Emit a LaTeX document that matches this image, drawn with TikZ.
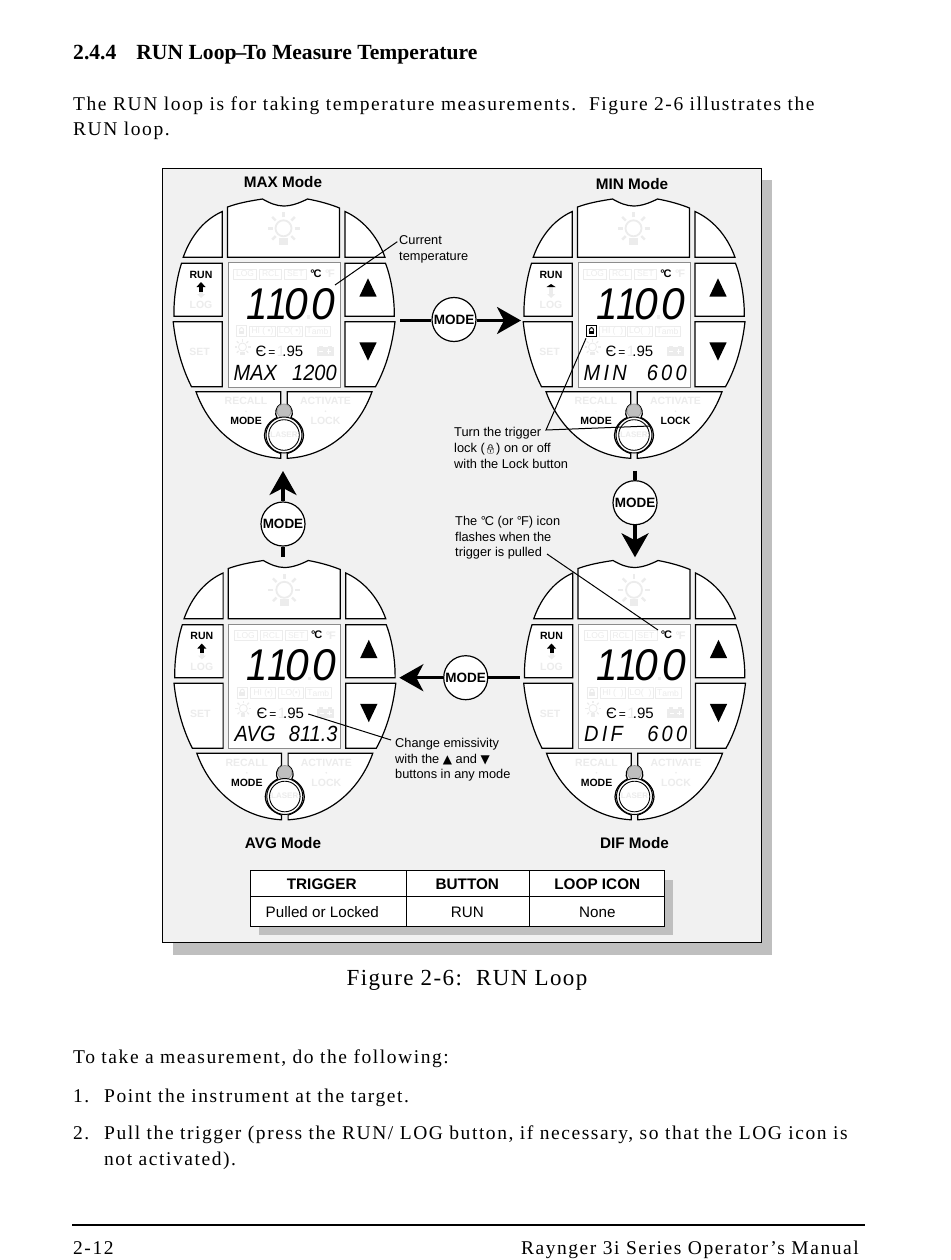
\documentclass[tikz,border=0pt]{standalone}
\usepackage{fontspec}
\usepackage{graphicx}
\usetikzlibrary{arrows.meta}
\setmainfont{Liberation Serif}
\setsansfont{Liberation Sans}
\newfontfamily\bodyfont[LetterSpace=8]{Liberation Serif}
\newfontfamily\figfont[LetterSpace=6]{Liberation Serif}
\newfontfamily\lcdwide[LetterSpace=16]{Liberation Sans}
\newfontfamily\symfont{DejaVu Sans}
\newfontfamily\emojifont{Noto Emoji}
\newcommand{\szz}[1]{\fontsize{#1}{#1}\selectfont}
\definecolor{ghost}{RGB}{236,236,236}
\definecolor{panel}{HTML}{F1F1F1}
\definecolor{shadowgray}{HTML}{BFBFBF}
\definecolor{lcdedge}{HTML}{8C8C8C}
\tikzset{
  btn/.style={draw=black,fill=white,line width=1.2pt,line join=miter},
  ftext/.style={text=ghost,font=\sffamily\bfseries\szz{10.5},inner sep=0pt},
  btext/.style={text=black,font=\sffamily\bfseries\szz{10.5},inner sep=0pt},
  gbox/.style={draw=ghost,line width=0.9pt,fill=white},
  modecirc/.style={circle,draw=black,fill=white,line width=1.2pt,minimum size=44pt,inner sep=0pt,font=\sffamily\bfseries\szz{13.5}},
  modeline/.style={line width=3.4pt,black},
  modearrow/.style={line width=3.4pt,black,-{Stealth[length=24pt,width=27pt,inset=7pt]}},
  callout/.style={inner sep=0pt,anchor=north west,align=left,font=\sffamily\fontsize{12.8}{15.6}\selectfont},
  leader/.style={line width=1pt,black},
  title/.style={inner sep=0pt,font=\sffamily\bfseries\szz{15.3}},
  cell/.style={inner sep=0pt,font=\sffamily\szz{15.2}},
  headcell/.style={inner sep=0pt,font=\sffamily\bfseries\szz{15.3}},
  bodyline/.style={inner sep=0pt,anchor=base west,font=\bodyfont\szz{19.5}},
  lcdrow/.style={inner sep=0pt,anchor=base west,font=\sffamily\itshape\szz{20}}
}
\newcommand{\sunicon}[3]{%
  \begin{scope}[shift={(#1,#2)},scale=#3]
    \draw[draw=ghost,line width=1.8pt*#3,fill=white] (0,0) circle[radius=8pt];
    \foreach \ang in {0,45,...,315} \draw[draw=ghost,line width=2.4pt*#3] (\ang:11) -- (\ang:16);
    \fill[fill=ghost] (-4.2,9.5) rectangle (4.2,16.5);
  \end{scope}}
\newcommand{\lockicon}[1]{%
  \draw[draw=#1,line width=1pt] (-3,-0.5) .. controls (-3,-6) and (3,-6) .. (3,-0.5);
  \fill[fill=#1] (-4,-0.5) rectangle (4,4.5);}
\def\lockcol{ghost}\def\lockboxcol{ghost}\def\lockbtn{ghost}\def\stemcol{black}\def\tipstart{83}
% x, y, prefix, HI text, LO text, bottom row
\newcommand{\device}[6]{%
 \begin{scope}[shift={(#1,#2)}]
  \draw[btn] (-56,58.3) -- (-56,8) .. controls (-45,4) and (-34,2) .. (-21,0) .. controls (-14,4) and (-7,7) .. (0,7) .. controls (8,7) and (16,4) .. (24,0) .. controls (35,2) and (46,5) .. (56,9) -- (56,58.3) -- cycle;
  \draw[btn] (-61.2,12.5) -- (-61.2,58.3) -- (-100.3,58.3) .. controls (-92,35) and (-78,20) .. cycle;
  \draw[btn] (61.5,12.5) -- (61.5,58.3) -- (101.5,58.3) .. controls (93,35) and (78,20) .. cycle;
  \draw[btn] (-102,64.3) -- (-61.2,64.3) -- (-61.2,117.3) -- (-109.5,117.3) .. controls (-110,100) and (-107,80) .. cycle;
  \draw[btn] (61.5,64.3) -- (102,64.3) .. controls (108,80) and (111,100) .. (110.8,117.3) -- (61.5,117.3) -- cycle;
  \draw[btn] (-110.3,122.7) -- (-61.2,122.7) -- (-61.2,187.7) -- (-92,187.7) .. controls (-102,168) and (-108,145) .. cycle;
  \draw[btn] (61.5,122.7) -- (111.5,122.7) .. controls (109,145) and (103,168) .. (92,187.7) -- (61.5,187.7) -- cycle;
  \draw[btn] (-87.5,192.7) -- (-2.8,192.7) -- (-2.8,205) .. controls (-8,208) and (-9,215) .. (-6.5,218.5) .. controls (-14,222) and (-19,229) .. (-19,236) .. controls (-19,244) and (-13,251.5) .. (-2.8,254.5) -- (-2.8,259.3) .. controls (-45,257) and (-75,228) .. cycle;
  \draw[btn] (88.5,192.7) -- (3.8,192.7) -- (3.8,205) .. controls (9,208) and (10,215) .. (7.5,218.5) .. controls (15,222) and (20,229) .. (20,236) .. controls (20,244) and (14,251.5) .. (3.8,254.5) -- (3.8,259.3) .. controls (46,257) and (76,228) .. cycle;
  % top sun
  \sunicon{0}{29.3}{1}
  % lcd
  \draw[draw=lcdedge,fill=white,line width=0.9pt] (-55.5,63.5) rectangle (56.5,188);
  \draw[gbox] (-50,70) rectangle (-27,80);
  \draw[gbox] (-24,70) rectangle (-2,80);
  \draw[gbox] (1,70) rectangle (23,80);
  \node[ftext,font=\sffamily\szz{8.5}] (#3log) at (-38.5,75) {LOG};
  \node[ftext,font=\sffamily\szz{8.5}] (#3rcl) at (-13,75) {RCL};
  \node[ftext,font=\sffamily\szz{8.5}] (#3set) at (12,75) {SET};
  \node[btext,font=\sffamily\bfseries\szz{11}] (#3degc) at (32.5,74.7) {°\kern-1.2pt C};
  \node[ftext,font=\sffamily\bfseries\szz{11}] (#3degf) at (46.5,74.7) {°\kern-1.2pt F};
  \node[inner sep=0pt,anchor=base east,font=\sffamily\itshape\szz{38}] (#3big) at (52,120.3) {\scalebox{1}[1.17]{1\kern-1pt 1\kern-3pt \scalebox{1.12}[1]{0}\kern3.5pt \scalebox{1.12}[1]{0}}};
  \fill[fill=ghost] (23.5,116) rectangle (26.5,119.5);
  % lock and mode boxes
  \draw[draw=\lockboxcol,line width=0.9pt,fill=white] (-47,126.5) rectangle (-37,137.5);
  \begin{scope}[shift={(-42,132)},scale=0.72]\lockicon{\lockcol}\end{scope}
  \draw[gbox] (-34,127) rectangle (-8.5,137.7);
  \draw[gbox] (-6,127) rectangle (19,137.7);
  \draw[gbox] (21.5,127) rectangle (47,137.7);
  \node[ftext,font=\sffamily\szz{8.5}] (#3hi) at (-21,132.4) {#4};
  \node[ftext,font=\sffamily\szz{8.5}] (#3lo) at (6.5,132.4) {#5};
  \node[ftext,font=\sffamily\szz{8.5}] (#3tamb) at (34,132.4) {T\raisebox{-0.8pt}{amb}};
  \sunicon{-41}{148}{0.5}
  \node[inner sep=0pt,anchor=base west,font=\sffamily\szz{15}] (#3emis) at (-28,157.7) {Є\kern2pt \scalebox{0.8}{=}\kern1.5pt \textcolor{ghost}{1}\kern-3pt .95};
  \fill[fill=ghost] (33,148) rectangle (50,157);
  \fill[fill=ghost] (35,146.5) rectangle (39,148);
  \fill[fill=ghost] (44,146.5) rectangle (48,148);
  \draw[draw=white,line width=0.8pt] (35.5,152.5) -- (39.5,152.5) (43,152.5) -- (47.5,152.5) (45.2,150.2) -- (45.2,154.8);
  \node[lcdrow] (#3row) at (-50,181) {\scalebox{1}[1.1]{\makebox[103pt][s]{#6}}};
  % run button
  \node[btext] (#3run) at (-82.5,75.7) {RUN};
  \fill[fill=ghost] (-84.5,90) rectangle (-80.5,95);
  \fill[fill=ghost] (-86.5,95) -- (-78.5,95) -- (-82.5,99) -- cycle;
  \fill[fill=\stemcol] (-84.5,87.5) rectangle (-80.5,92.5);
  \fill[fill=black] (-87,88) -- (-78,88) -- (-82.5,\tipstart) -- cycle;
  \node[ftext] (#3logb) at (-82.5,106) {LOG};
  \node[ftext] (#3setb) at (-84,153) {SET};
  \fill[fill=black] (84.5,79.3) -- (93.2,97.7) -- (75.8,97.7) -- cycle;
  \fill[fill=black] (84.5,161.7) -- (93.2,143.3) -- (75.8,143.3) -- cycle;
  % bottom buttons
  \node[ftext] (#3recall) at (-37.5,202.3) {RECALL};
  \fill[fill=ghost] (-37.5,212.3) circle[radius=0.9pt];
  \node[btext] (#3mode) at (-37.5,222.3) {MODE};
  \node[ftext] (#3activate) at (42,202.3) {ACTIVATE};
  \fill[fill=ghost] (42,212.3) circle[radius=0.9pt];
  \node[ftext,text=\lockbtn] (#3lock) at (42,222.3) {LOCK};
  \draw[draw=shadowgray!80!black,fill=shadowgray,line width=0.7pt] (0.5,212) circle[radius=7pt];
  \draw[draw=black,fill=white,line width=1pt] (0.5,236) circle[radius=18pt];
  \draw[draw=black,line width=0.9pt] (0.5,236) circle[radius=15.3pt];
  \node[ftext,font=\sffamily\bfseries\szz{8}] (#3laser) at (0.5,235.3) {LASER};
 \end{scope}}
\begin{document}
\begin{tikzpicture}[x=1pt,y=-1pt]
\useasboundingbox (0,0) rectangle (950,1260);
\fill[white] (0,0) rectangle (950,1260);
% page text
\node[inner sep=0pt,anchor=base west,font=\bfseries\szz{21.6}] (head) at (73,60) {2.4.4\kern20pt RUN Loop\kern-1pt --\kern-3pt To Measure Temperature};
\node[bodyline] (l1) at (73,111) {The RUN loop is for taking temperature measurements.\ \ Figure 2-6 illustrates the};
\node[bodyline] (l2) at (73,136) {RUN loop.};
\node[inner sep=0pt,anchor=base,font=\figfont\szz{23}] (figcap) at (467,985) {Figure 2-6:\ \ RUN Loop};
\node[bodyline] (l3) at (73,1063) {To take a measurement, do the following:};
\node[bodyline] (n1) at (73,1102) {1.};
\node[bodyline] (l4) at (104,1102) {Point the instrument at the target.};
\node[bodyline] (n2) at (73,1139) {2.};
\node[bodyline] (l5) at (104,1139) {Pull the trigger (press the RUN/ LOG button, if necessary, so that the LOG icon is};
\node[bodyline] (l6) at (104,1165) {not activated).};
\coordinate (ruleL) at (72,1225);
\coordinate (ruleR) at (865,1225);
\draw[draw=black,line width=2.4pt] (ruleL) -- (ruleR);
\node[bodyline] (pg) at (73,1254) {2-12};
\node[bodyline,anchor=base east] (man) at (859,1254) {Raynger 3i Series Operator’s Manual};
% panel
\fill[fill=shadowgray] (173,180) rectangle (772,955);
\draw[fill=panel,draw=black,line width=1pt] (162.5,169) rectangle (761.5,942);
% devices
\device{283.5}{199}{max}{HI ( \textbullet)}{LO( \textbullet)}{MAX\hfill 1200}
\def\lockcol{black}\def\lockboxcol{black}\def\lockbtn{black}\def\stemcol{ghost}\def\tipstart{85}
\device{633.5}{199}{min}{HI (\ \ )}{LO(\ \ )}{{\lcdwide\itshape MIN}\hfill {\lcdwide\itshape 600}}
\def\lockcol{ghost}\def\lockboxcol{ghost}\def\lockbtn{ghost}\def\stemcol{black}\def\tipstart{83}
\device{284.3}{560.5}{avg}{HI (\textbullet)}{LO(\textbullet)}{AVG\hfill 811.3}
\device{634}{560.5}{dif}{HI (\ \ )}{LO(\ \ )}{{\lcdwide\itshape DIF}\hfill {\lcdwide\itshape 600}}
% titles
\node[title] (tmax) at (283,182) {MAX Mode};
\node[title] (tmin) at (632,184) {MIN Mode};
\node[title] (tavg) at (283,843) {AVG Mode};
\node[title] (tdif) at (634.5,843) {DIF Mode};
% mode connectors
\node[modecirc] (m1) at (454,319.5) {MODE};
\node[modecirc] (m2) at (635,502.7) {MODE};
\node[modecirc] (m3) at (465.7,677.7) {MODE};
\node[modecirc] (m4) at (283,524) {MODE};
\coordinate (m1a) at (400,320.5); \coordinate (m1b) at (521,320.5);
\coordinate (m2a) at (635,470.7); \coordinate (m2b) at (635,557.3);
\coordinate (m3a) at (520,677.7); \coordinate (m3b) at (399.3,677.7);
\coordinate (m4a) at (283,557); \coordinate (m4b) at (283,471);
\draw[modeline] (m1a) -- (m1a -| m1.west); \draw[modearrow] (m1.east |- m1b) -- (m1b);
\draw[modeline] (m2a) -- (m2); \draw[modearrow] (m2) -- (m2b);
\draw[modeline] (m3a) -- (m3); \draw[modearrow] (m3) -- (m3b);
\draw[modeline] (m4a) -- (m4); \draw[modearrow] (m4) -- (m4b);
% callouts
\node[callout] (c1) at (399,235.5) {Current\\temperature};
\node[callout] (c2) at (454,427.5) {Turn the trigger\\lock ({\emojifont\szz{9}🔒}) on or off\\with the Lock button};
\node[callout] (c3) at (455,516) {The °\kern-1pt C (or °\kern-1pt F) icon\\flashes when the\\trigger is pulled};
\node[callout] (c4) at (395,738) {Change emissivity\\with the {\symfont\szz{12}▲} and {\symfont\szz{12}▼}\\buttons in any mode};
\coordinate (c1a) at (397.3,241.7); \coordinate (c1b) at (335,285);
\coordinate (c2a) at (546,430); \coordinate (c2b) at (586,338.3); \coordinate (c2c) at (650,426);
\coordinate (c3a) at (547,554); \coordinate (c3b) at (658,630);
\coordinate (c4a) at (391,740); \coordinate (c4b) at (308.3,714);
\draw[leader] (c1a) -- (c1b);
\draw[leader] (c2b) -- (c2a) -- (c2c);
\draw[leader] (c3a) -- (c3b);
\draw[leader] (c4a) -- (c4b);
% table
\fill[fill=shadowgray] (259,880) rectangle (672.7,935);
\draw[fill=white,draw=black,line width=1.2pt] (250.7,870.7) rectangle (664.3,926.7);
\coordinate (t1) at (250.7,896.7); \coordinate (t2) at (664.3,896.7);
\coordinate (t3) at (406.3,870.7); \coordinate (t4) at (406.3,926.7);
\coordinate (t5) at (529.3,870.7); \coordinate (t6) at (529.3,926.7);
\draw[draw=black,line width=1pt] (t1) -- (t2) (t3) -- (t4) (t5) -- (t6);
\node[headcell] (h1) at (321.7,884) {TRIGGER};
\node[headcell] (h2) at (467.3,884) {BUTTON};
\node[headcell] (h3) at (597.3,884) {LOOP ICON};
\node[cell] (v1) at (322.3,912) {Pulled or Locked};
\node[cell] (v2) at (467.3,912) {RUN};
\node[cell] (v3) at (597.3,912) {None};
\end{tikzpicture}
\end{document}
